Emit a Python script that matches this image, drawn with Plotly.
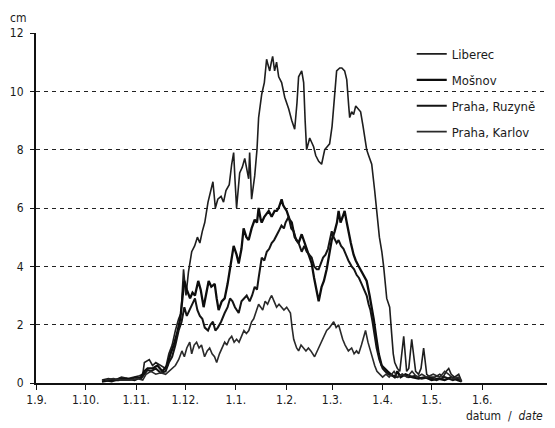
import pandas as pd
import plotly.graph_objects as go

season_start = "2005-09-01"

# days since 1 September, snow depth in cm
liberec_days = [40,44,48,52,56,60,63,65,66,69,71,73,76,79,81,83,85,87,88.5,90,91.5,93,95,96.8,98.5,100,101.5,103,105,106.5,108,109.5,111,113,114.5,116,118,119.5,120.7,121.5,122.5,124.4,126,127.5,129,129.9,130.5,131.7,133.6,135,136,137.9,139.5,140.9,141.8,142.8,143.8,144.6,145.8,147,148.3,150.1,152,154.4,156.3,158.1,159.5,160.5,162.4,163.6,164.5,165.4,167.3,169.7,171,172.8,174.6,176.5,178,179.5,181,182,183.8,185.7,187,188.7,190,191.2,191.8,193,194.2,195.5,197,198.5,200,201,202.2,203.4,205.3,207.1,208.5,210,211.5,212.6,214.5,216.3,217.5,218.5,219.4,221,222.5,224.9,226.7,228,229.8,232.2,234,235.5,237.1,239,241,244,247,249,251,252.5,254,256,258.6,260.4]
liberec_cm = [0.1,0.15,0.1,0.2,0.15,0.2,0.25,0.3,0.7,0.8,0.6,0.7,0.6,0.5,1.0,1.3,1.8,2.2,2.4,3.9,3.0,3.8,4.5,4.7,5.0,4.8,5.2,5.5,6.2,6.6,6.9,6.0,6.3,6.4,6.2,6.6,6.8,7.5,7.9,7.0,6.0,7.2,7.4,7.7,7.2,7.0,7.9,6.3,7.1,8.0,9.1,9.9,10.3,11.1,10.9,10.7,11.0,11.2,10.7,11.0,10.5,10.3,9.8,9.4,9.0,8.7,9.6,10.5,10.7,10.3,9.0,8.0,8.4,8.1,7.8,7.6,7.5,8.0,8.1,8.2,8.8,9.5,10.7,10.8,10.8,10.7,10.4,9.5,9.1,9.3,9.2,9.5,9.4,9.3,8.8,8.4,8.0,7.8,7.5,6.6,5.8,5.0,4.5,4.0,2.9,2.6,1.7,1.0,0.7,0.5,0.4,1.6,0.4,0.5,1.5,0.4,0.3,0.5,1.2,0.3,0.2,0.2,0.3,0.2,0.4,0.5,0.3,0.2,0.3,0.05]

mosnov_days = [40,45,50,55,60,64,66,68,71,74,77,80,82,84,86,88,89.5,90.5,92,94,95.5,97,99,100.5,102.3,103.5,105.4,107,109.1,110.3,111.5,113.4,115.2,117,118.3,119.5,120.7,122.5,123.8,125.5,126.8,128.5,129.9,131.7,133.6,135,136,137.3,137.9,139.5,141,142.2,144,145.8,147.1,148.3,150.1,151,152,153.2,155,156.3,158.1,160.5,162.4,164.2,166,168.5,170,171.6,172.8,174.6,176,177.7,179,180.8,182.6,184,185,186.2,187.5,188.7,190,191.2,192.5,194.2,195.5,197.3,199.1,201,202.2,204,205.3,206.5,208,209.6,211.4,213,215,217,219.4,221,223,226,230,234,238,242,246,250,254,258,260.4]
mosnov_cm = [0.05,0.1,0.1,0.15,0.1,0.2,0.4,0.5,0.5,0.6,0.4,0.6,1.0,1.3,1.7,2.2,3.0,3.5,3.2,2.9,3.1,3.0,3.5,3.2,2.6,3.0,3.5,3.3,3.4,2.9,2.5,2.8,2.9,3.4,3.9,4.3,4.7,4.4,4.1,4.6,5.3,5.0,4.9,5.3,5.6,5.5,6.0,5.6,5.5,5.7,5.8,5.9,5.7,5.9,5.9,6.0,6.3,6.1,6.0,5.9,5.6,5.5,5.0,4.8,5.1,4.8,4.5,4.1,3.6,3.2,2.8,3.3,3.5,3.9,4.3,4.9,5.2,5.5,5.9,5.5,5.7,5.9,5.5,5.1,4.8,4.4,4.2,4.0,3.8,3.6,3.5,3.0,2.6,2.2,1.6,1.0,0.6,0.5,0.4,0.3,0.2,0.4,0.2,0.3,0.2,0.15,0.2,0.1,0.15,0.1,0.2,0.1,0.05]

ruzyne_days = [41,46,51,56,61,64,66,68,70,73,76,79,81,83,85,87,88.8,90.5,92,93.8,95.5,97,98.5,100,101.5,103,105,106.5,108,109.5,111,113,115.2,117,118.5,120,121.5,123.8,125.5,127,128.7,130.5,132,133.6,135,136,137.9,139.5,141,142.5,144,145.5,147.1,148.3,150,151.5,152.5,154.4,156,157.5,159,160.5,162.4,164,165.5,167,168.5,170,171.6,172.8,174,175.5,177,178.5,180.8,182,183.8,185,186.5,188,189.5,191,193,194.5,196.1,197.5,199.1,200.5,202.2,203.4,204.5,205.8,207,208.3,210,212,213.5,215.5,218,221,224,228,232,236,240,245,250,255,258,260]
ruzyne_cm = [0.1,0.05,0.15,0.1,0.2,0.15,0.3,0.45,0.4,0.5,0.35,0.4,0.7,0.9,1.3,1.8,2.1,2.6,2.3,2.5,2.7,2.9,2.5,2.3,2.2,1.9,1.8,2.0,2.1,1.8,1.9,2.1,2.4,2.6,2.9,2.8,2.6,2.4,2.8,2.9,3.0,2.8,3.0,3.3,3.2,3.6,4.3,4.2,4.5,4.6,4.8,4.9,5.1,5.2,5.4,5.3,5.5,5.7,5.3,5.2,4.9,4.8,4.5,4.7,4.5,4.4,4.3,4.0,3.9,3.9,4.1,4.3,4.4,4.6,5.2,5.0,4.8,4.9,4.7,4.6,4.4,4.2,4.0,3.9,3.7,3.6,3.4,3.2,3.0,2.7,2.5,2.1,1.7,1.2,0.8,0.5,0.4,0.3,0.25,0.2,0.3,0.2,0.25,0.15,0.2,0.1,0.2,0.1,0.15,0.05]

karlov_days = [42,47,52,57,62,65,67,70,73,76,79,81,83,85,87,89,90.5,92,93.8,95,96.5,98,99.5,101,102.9,104.5,106,107.5,109,110.3,112,113.5,115.2,116.5,118,119.5,121,122.5,124,125.5,127,128.5,130,131.7,133,134.8,136,137.3,138.5,140,141.5,143,144,145.5,147,148.5,150,151.5,153.2,154.4,155.5,156.5,157.5,159.3,160.5,162,163.5,165,166.5,168,170.3,172,174.6,176,177.7,179.5,181,182,183.5,185,186.5,187.5,189,191,193,194.5,196,197.3,199,200.5,201.5,203,204,205.5,207.1,208.5,210.2,212,214,216,219,221,224,227,230,233,236,239,243,247,250,252.5,255,258.6,260.4]
karlov_cm = [0.1,0.15,0.1,0.1,0.15,0.1,0.3,0.4,0.3,0.35,0.3,0.4,0.5,0.6,0.8,1.1,0.9,1.2,1.4,1.0,1.3,1.4,1.2,1.3,0.9,1.1,1.2,1.0,0.9,0.7,1.0,1.2,1.4,1.3,1.5,1.6,1.4,1.5,1.4,1.6,1.8,1.7,1.8,2.1,2.2,2.5,2.7,2.6,2.5,2.8,2.7,2.9,3.0,2.8,2.6,2.7,2.6,2.5,2.6,2.5,2.4,1.9,1.5,1.2,1.1,1.3,1.2,1.1,1.2,1.1,0.9,1.1,1.4,1.6,1.8,1.9,2.0,2.1,1.9,2.0,1.7,1.5,1.3,1.1,1.2,1.0,1.1,1.0,1.3,1.6,1.8,1.4,1.2,0.9,0.6,0.4,0.3,0.2,0.3,0.2,0.4,0.2,0.3,0.2,0.4,0.2,0.3,0.2,0.3,0.2,0.4,0.3,0.15,0.2,0.05]

series_names = ["Liberec", "Mošnov", "Praha, Ruzyně", "Praha, Karlov"]
tick_dates = ["2005-09-01","2005-10-01","2005-11-01","2005-12-01","2006-01-01",
              "2006-02-01","2006-03-01","2006-04-01","2006-05-01","2006-06-01"]
tick_labels = ["1.9.","1.10.","1.11.","1.12.","1.1.","1.2.","1.3.","1.4.","1.5.","1.6."]
y_ticks = [0, 2, 4, 6, 8, 10, 12]

base = pd.Timestamp(season_start)
def to_dates(days):
    return base + pd.to_timedelta(days, unit="D")

series = [
    (liberec_days, liberec_cm, dict(color="#1e1e1e", width=1.6)),
    (mosnov_days, mosnov_cm, dict(color="#0d0d0d", width=2.3)),
    (ruzyne_days, ruzyne_cm, dict(color="#141414", width=2.0)),
    (karlov_days, karlov_cm, dict(color="#2a2a2a", width=1.6)),
]

fig = go.Figure()
for name, (d, v, ln) in zip(series_names, series):
    fig.add_trace(go.Scatter(x=to_dates(d), y=v, mode="lines", name=name,
                             line=ln, legendgroup=name))

font_family = "DejaVu Sans Condensed, Liberation Sans Narrow, Liberation Sans, Arial, sans-serif"

# the page adds an 8px body margin; margins compensate so the plot lands in place
fig.update_layout(
    width=555, height=428,
    margin=dict(l=28, r=0, t=25, b=53),
    paper_bgcolor="white", plot_bgcolor="white",
    font=dict(family=font_family, size=12, color="#1a1a1a"),
    showlegend=True,
    legend=dict(x=0.713, y=0.983, xanchor="left", yanchor="top",
                bgcolor="rgba(0,0,0,0)", tracegroupgap=6,
                font=dict(size=13, family=font_family)),
    xaxis=dict(
        type="date",
        range=[base - pd.Timedelta(days=0.4), base + pd.Timedelta(days=322.5)],
        tickvals=tick_dates, ticktext=tick_labels,
        showgrid=False, showline=True, linecolor="#111", linewidth=2,
        ticks="outside", ticklen=5, tickcolor="#111", tickwidth=1,
        tickfont=dict(size=12), zeroline=False,
    ),
    yaxis=dict(
        range=[0, 12], tickvals=y_ticks,
        showgrid=True, gridcolor="#222", gridwidth=1.3, griddash="4px,4px",
        showline=True, linecolor="#111", linewidth=2,
        ticks="outside", ticklen=4, tickcolor="#111", ticklabelstandoff=4,
        tickfont=dict(size=12), zeroline=False,
    ),
    annotations=[
        dict(text="cm", xref="paper", yref="paper", x=0, y=1.0, xshift=-8, yshift=6,
             xanchor="right", yanchor="bottom", showarrow=False, font=dict(size=12)),
        dict(text="datum  /  <i>date</i>", xref="paper", yref="paper", x=1, y=0,
             xanchor="right", yanchor="top", xshift=-18, yshift=-24, showarrow=False,
             font=dict(size=12)),
    ],
)

fig.write_html("out.html")
